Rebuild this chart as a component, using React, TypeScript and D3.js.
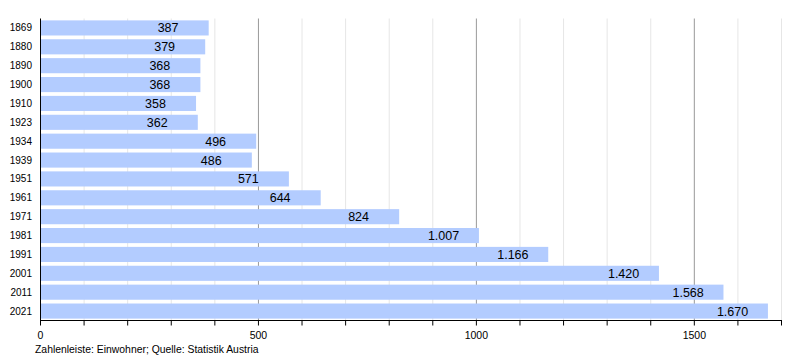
import React from "react";
import * as d3 from "d3";

const years = ["1869","1880","1890","1900","1910","1923","1934","1939","1951","1961","1971","1981","1991","2001","2011","2021"];
const population = [387,379,368,368,358,362,496,486,571,644,824,1007,1166,1420,1568,1670];
const majorTicks = [0, 500, 1000, 1500];
const footer = "Zahlenleiste: Einwohner; Quelle: Statistik Austria";

const W = 800, H = 360;
const left = 40, right = 781, top = 18.5, bottom = 320.5;

const fmt = (v: number) => {
  const s = String(v);
  return s.length > 3 ? s.slice(0, s.length - 3) + "." + s.slice(-3) : s;
};

export default function App() {
  const x = d3.scaleLinear().domain([0, 1700]).range([left, right]);
  const y = d3.scaleBand<string>().domain(years).range([top, bottom]).paddingInner(0.2).paddingOuter(0.1);
  const minor = d3.range(0, 1701, 100);
  const font = "Liberation Sans, Arial, sans-serif";
  return (
    <svg width={W} height={H} style={{ position: "absolute", left: 0, top: 0, background: "#fff" }} fontFamily={font}>
      {minor.filter(v => v % 500 !== 0).map(v => (
        <line key={"g" + v} x1={x(v) + 0.5} x2={x(v) + 0.5} y1={top} y2={bottom} stroke="#e6e6e6" strokeWidth={1} />
      ))}
      {majorTicks.filter(v => v > 0).map(v => (
        <line key={"G" + v} x1={x(v) + 0.5} x2={x(v) + 0.5} y1={top} y2={bottom} stroke="#999" strokeWidth={1} />
      ))}
      {years.map((yr, i) => (
        <g key={yr}>
          <rect x={x(0) + 1} y={y(yr)!} width={x(population[i]) - x(0) - 1} height={y.bandwidth()} fill="#b3ccff" />
          <text x={x(population[i]) - 51} y={y(yr)! + y.bandwidth() / 2 + 4.5} fontSize={12.5} fill="#000">{fmt(population[i])}</text>
          <text x={32} y={y(yr)! + y.bandwidth() / 2 + 3.5} fontSize={10} textAnchor="end" fill="#000">{yr}</text>
        </g>
      ))}
      <line x1={left + 0.5} x2={left + 0.5} y1={top} y2={bottom} stroke="#000" />
      <line x1={left} x2={right + 1} y1={bottom} y2={bottom} stroke="#000" />
      {minor.map(v => (
        <line key={"t" + v} x1={x(v) + 0.5} x2={x(v) + 0.5} y1={bottom} y2={bottom + 5} stroke="#000" />
      ))}
      {majorTicks.map(v => (
        <text key={"l" + v} x={x(v) + 0.5} y={339} fontSize={10.5} textAnchor="middle" fill="#000">{v}</text>
      ))}
      <text x={35} y={353} fontSize={10.4} fill="#000">{footer}</text>
    </svg>
  );
}
